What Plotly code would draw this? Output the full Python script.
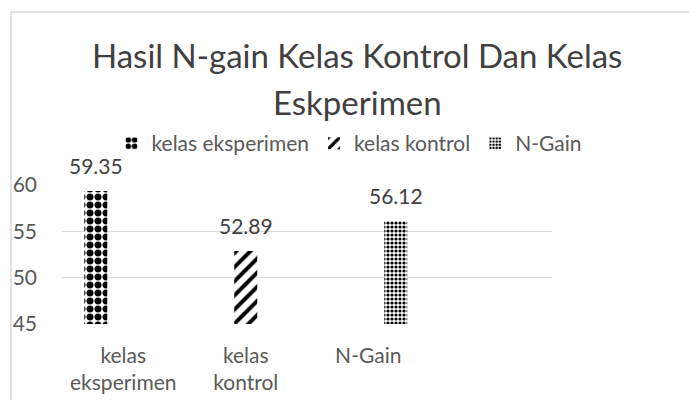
import plotly.graph_objects as go

categories = ["kelas<br>eksperimen", "kelas<br>kontrol", "N-Gain"]
series_names = ["kelas eksperimen", "kelas kontrol", "N-Gain"]
values = [59.35, 52.89, 56.12]
y_ticks = [45, 50, 55, 60]
title_lines = ["Hasil N-gain Kelas Kontrol Dan Kelas", "Eskperimen"]

patterns = [
    dict(shape=".", fgcolor="black", bgcolor="white", size=8, solidity=0.6, fgopacity=1),
    dict(shape="/", fgcolor="black", bgcolor="white", size=10, solidity=0.4, fgopacity=1),
    dict(shape=".", fgcolor="black", bgcolor="white", size=4, solidity=0.5, fgopacity=1),
]

FONT = "Lato"
TXT = "#595959"

# the figure appears 8px inset in the page
OFF = 8
W, H = 697 - OFF, 400 - OFF
L, T = 62 - OFF, 185 - OFF
pw, ph = 490, 139
R, B = W - L - pw, H - T - ph
def px(x): return (x - OFF - L) / pw
def py(y): return (T + ph - (y - OFF)) / ph

BARGAP, GROUPGAP = 0.327, 0.164
n_slots = 4  # category range -0.5 .. 3.5
slot_px = pw / n_slots * (1 - BARGAP) / len(values)

fig = go.Figure()
annotations = []
for i, (name, cat, val, pat) in enumerate(zip(series_names, categories, values, patterns)):
    fig.add_trace(go.Bar(
        name=name, x=[cat], y=[val], offsetgroup=str(i),
        marker=dict(color="white", pattern=pat, line=dict(width=0)),
        cliponaxis=False,
    ))
    annotations.append(dict(
        x=cat, y=val, xref="x", yref="y", text=f"{val:.2f}", showarrow=False,
        xanchor="center", yanchor="bottom", yshift=11,
        xshift=(i - (len(values) - 1) / 2) * slot_px,
        font=dict(family=FONT, size=21, color="#404040"),
    ))

for line, ycen in zip(title_lines, [55, 101.5]):
    annotations.append(dict(
        x=px(357), y=py(ycen), xref="paper", yref="paper", text=line, showarrow=False,
        xanchor="center", yanchor="middle",
        font=dict(family=FONT, size=33, color="#404040"),
    ))

fig.update_layout(
    width=W, height=H,
    margin=dict(l=L, r=R, t=T, b=B, autoexpand=False),
    paper_bgcolor="white", plot_bgcolor="white",
    barmode="group", bargap=BARGAP, bargroupgap=GROUPGAP,
    annotations=annotations,
    legend=dict(orientation="h", x=(352 - OFF - 3) / W, xanchor="center", xref="container",
                y=1 - (115 - OFF + 8) / H, yanchor="top", yref="container",
                font=dict(family=FONT, size=21, color=TXT), itemwidth=30),
    showlegend=True,
    xaxis=dict(type="category", categoryorder="array", categoryarray=categories,
               range=[-0.5, 3.5], showgrid=False, showline=False, ticks="",
               tickfont=dict(family=FONT, size=21, color=TXT), ticklabelstandoff=17),
    yaxis=dict(range=[45, 60], tickvals=y_ticks, showgrid=True, gridcolor="#d9d9d9",
               gridwidth=1.3, zeroline=False, showline=False, ticks="",
               tickfont=dict(family=FONT, size=21, color=TXT), ticklabelstandoff=24),
    shapes=[
        dict(type="line", xref="paper", yref="paper", x0=px(11), x1=px(705), y0=py(12), y1=py(12),
             line=dict(color="#d9d9d9", width=1.5)),
        dict(type="line", xref="paper", yref="paper", x0=px(11), x1=px(11), y0=py(12), y1=py(405),
             line=dict(color="#d9d9d9", width=1.5)),
    ],
)

fig.write_html("out.html")
